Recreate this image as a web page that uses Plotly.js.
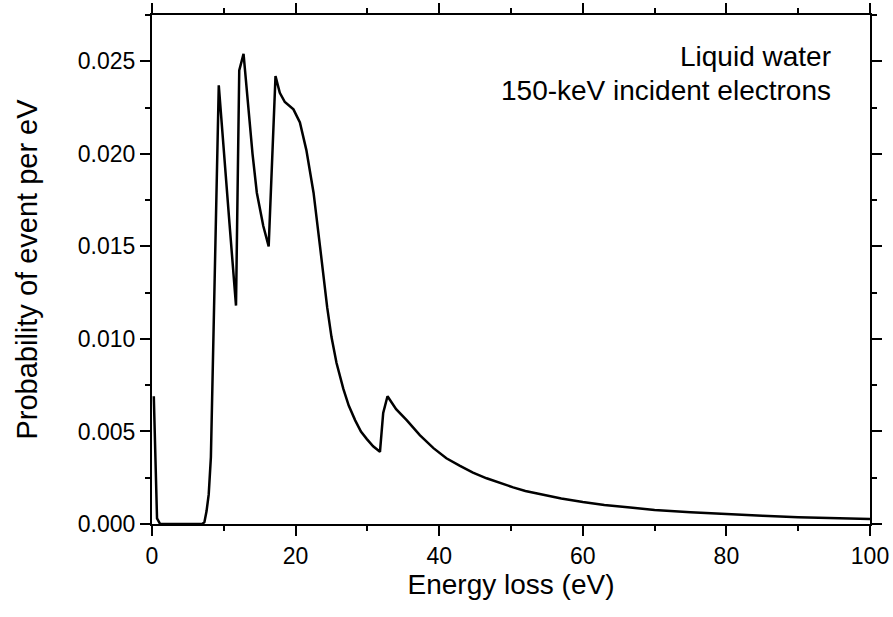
<!DOCTYPE html>
<html>
<head>
<meta charset="utf-8">
<script src="https://cdn.plot.ly/plotly-3.0.1.min.js"></script>
<style>html,body{margin:0;padding:0;background:#fff;}#chart{width:893px;height:617px;}</style>
</head>
<body>
<div id="chart"></div>
<script>
var energyLoss = [0.25, 0.7, 1.1, 1.5, 3, 5, 7.0, 7.3, 7.6, 7.9, 8.2, 9.3, 10.0, 10.8, 11.7, 12.15, 12.75, 13.4, 14.0, 14.6, 15.5, 16.25, 17.2, 17.8, 18.5, 19.7, 20.6, 21.5, 22.5, 23.4, 23.9, 24.4, 25.0, 25.7, 26.65, 27.4, 28.3, 29.1, 29.9, 30.8, 31.75, 32.2, 32.8, 34.0, 35.5, 37.3, 39.2, 41.0, 42.9, 44.7, 46.6, 48.5, 50.3, 52.0, 54.0, 57.0, 60.0, 63.0, 66.6, 70.0, 75.0, 80.0, 85.0, 90.0, 95.0, 100.0];
var probability = [0.0069, 0.0003, 0.00002, 0, 0, 0, 0, 0.0001, 0.0007, 0.0016, 0.0036, 0.0237, 0.0200, 0.0162, 0.0118, 0.0245, 0.0254, 0.0224, 0.0200, 0.0179, 0.0161, 0.0150, 0.0242, 0.0233, 0.0228, 0.0224, 0.0217, 0.0202, 0.0179, 0.0150, 0.0133, 0.0117, 0.0101, 0.0087, 0.0073, 0.0064, 0.0056, 0.0050, 0.0046, 0.0042, 0.0039, 0.0060, 0.0069, 0.0062, 0.0056, 0.0048, 0.0041, 0.00355, 0.00314, 0.00278, 0.00247, 0.0022, 0.00198, 0.00178, 0.00162, 0.00138, 0.00119, 0.00103, 0.00089, 0.00076, 0.00063, 0.00052, 0.00044, 0.00037, 0.00031, 0.00027];
var noteLines = ["Liquid water", "150-keV incident electrons"];
var xTitle = "Energy loss (eV)";
var yTitle = "Probability of event per eV";

var fontFam = "Liberation Sans, Arial, sans-serif";
var axisCommon = {
  showline: true, linewidth: 2, linecolor: '#000',
  mirror: 'allticks', ticks: 'outside', ticklen: 10, tickwidth: 2, tickcolor: '#000',
  showgrid: false, zeroline: false,
  tickfont: {family: fontFam, size: 23, color: '#000'}
};
var layout = {
  width: 893, height: 617,
  margin: {l: 152, r: 23, t: 15, b: 93},
  paper_bgcolor: '#fff', plot_bgcolor: '#fff',
  showlegend: false,
  xaxis: Object.assign({}, axisCommon, {
    range: [0, 100], dtick: 20, tick0: 0,
    minor: {dtick: 10, ticks: 'outside', ticklen: 5, tickwidth: 2, tickcolor: '#000'},
    title: {text: xTitle, font: {family: fontFam, size: 28, color: '#000'}, standoff: 2}
  }),
  yaxis: Object.assign({}, axisCommon, {
    range: [0, 0.0275], dtick: 0.005, tick0: 0, tickformat: '.3f',
    minor: {dtick: 0.0025, ticks: 'outside', ticklen: 5, tickwidth: 2, tickcolor: '#000'},
    title: {text: yTitle, font: {family: fontFam, size: 29, color: '#000'}, standoff: 32}
  }),
  annotations: [
    {text: noteLines[0], xref: 'paper', yref: 'paper', x: 0.948, y: 0.919, xanchor: 'right', yanchor: 'middle', showarrow: false, font: {family: fontFam, size: 28, color: '#000'}},
    {text: noteLines[1], xref: 'paper', yref: 'paper', x: 0.948, y: 0.851, xanchor: 'right', yanchor: 'middle', showarrow: false, font: {family: fontFam, size: 28, color: '#000'}}
  ]
};
var trace = {x: energyLoss, y: probability, type: 'scatter', mode: 'lines', line: {color: '#000', width: 2.5}, hoverinfo: 'skip'};
Plotly.newPlot('chart', [trace], layout, {staticPlot: true, displayModeBar: false});
</script>
</body>
</html>
